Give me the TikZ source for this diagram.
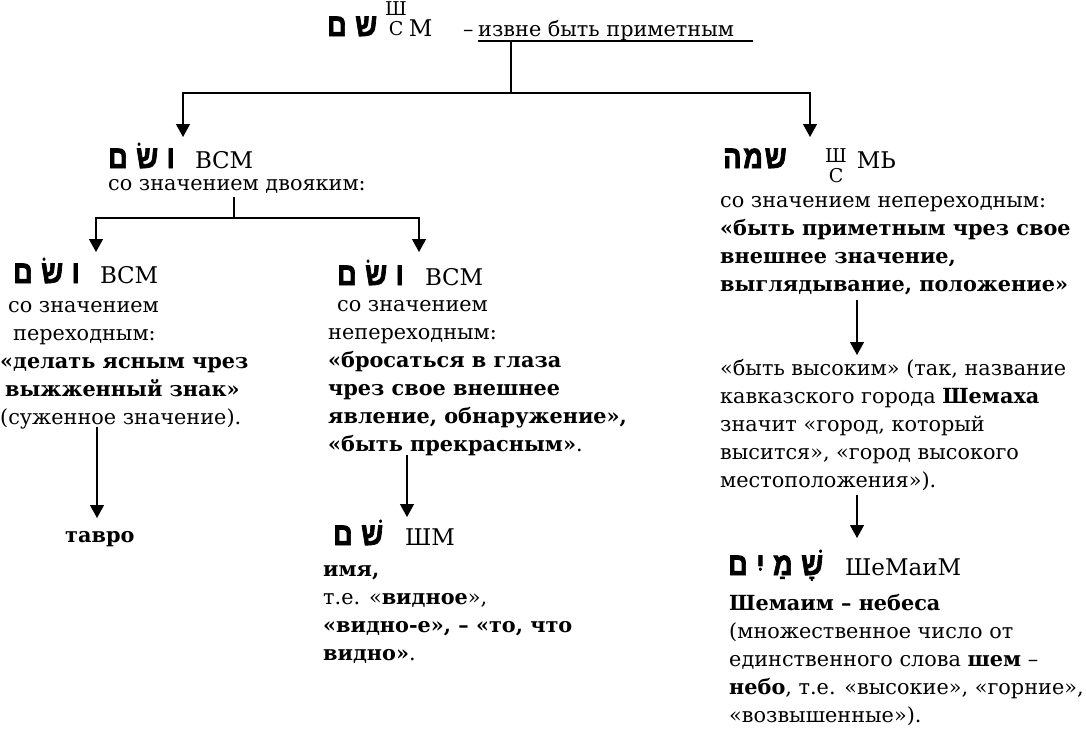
\documentclass[tikz,border=0pt]{standalone}
\usepackage{fontspec}
\setmainfont{DejaVu Serif}
\newfontfamily\hebfont[Script=Hebrew, BoldFeatures={FakeBold=2.5}]{Liberation Sans}
\TeXXeTstate=1
\usetikzlibrary{arrows.meta}

\newcommand{\hsp}{\hspace{10pt}}
\newcommand{\heb}[1]{\scalebox{0.85}[1]{\hebfont\bfseries\fontsize{32}{32}\selectfont\beginR #1\endR}}
\newcommand{\shsin}[1][0pt]{\raisebox{#1}{\fontsize{19}{19}\selectfont\begin{tabular}[c]{@{}c@{}}Ш\\С\end{tabular}}}

\begin{document}
\begin{tikzpicture}[x=1pt, y=-1pt,
    link/.style={line width=1.2pt},
    arr/.style={link, -{Triangle[width=14pt,length=13pt]}},
    hdr/.style={anchor=base west, inner sep=0pt, font=\fontsize{20.8}{24}\selectfont},
    trl/.style={anchor=base west, inner sep=0pt, font=\fontsize{23}{26}\selectfont},
    blk/.style={anchor=north west, inner sep=0pt, align=left,
        font=\fontsize{20.8}{28}\selectfont}
  ]
  \useasboundingbox (0,0) rectangle (1086,729);

  % root
  \node[hdr] (root) at (327,36) {\heb{ש\hsp ם}};
  \node[trl] (roottr) at (385,36) {\shsin[10pt]\hspace{2pt}М};
  \node[hdr] (rootdash) at (463,36) {–};
  \node[hdr] (rootdef) at (478,36) {извне быть приметным};
  \draw[link] ([yshift=-5pt]rootdef.base west) -- ++(275,0);

  % second level
  \node[hdr] (vsm) at (108,168) {\heb{ו\hsp שׂ\hsp ם}};
  \node[trl] (vsmtr) at (195,168) {ВСМ};
  \node[blk] (dvoyak) at (108,170.4) {\strut со значением двояким:};
  \node[hdr] (shmh) at (723,168) {\heb{ש\hspace{2pt}מ\hspace{2pt}ה}};
  \node[trl] (shmhtr) at (825,168) {\shsin[-5pt]\hspace{10pt}МЬ};
  \node[blk] (shmhtext) at (720,187.4) {\strut со значением непереходным:\\
    \textbf{«быть приметным чрез свое}\\
    \textbf{внешнее значение,}\\
    \textbf{выглядывание, положение»}};

  % third level, left
  \node[hdr] (vsmp) at (13,283) {\heb{ו\hsp שׂ\hsp ם}};
  \node[trl] (vsmptr) at (100,283) {ВСМ};
  \node[blk] (perehod) at (0,292.4) {\strut\hspace{8pt}со значением\\
    \hspace{13pt}переходным:\\
    \textbf{«делать ясным чрез}\\
    \hspace{5pt}\textbf{выжженный знак»}\\
    (суженное значение).};
  \node[hdr] (tavro) at (65,542) {\textbf{тавро}};

  % third level, middle
  \node[hdr] (vsmn) at (337,285) {\heb{ו\hsp שׂ\hsp ם}};
  \node[trl] (vsmntr) at (425,285) {ВСМ};
  \node[blk] (neperehod) at (328,291.4) {\strut\hspace{9pt}со значением\\
    непереходным:\\
    \textbf{«бросаться в глаза}\\
    \textbf{чрез свое внешнее}\\
    \textbf{явление, обнаружение»,}\\
    \textbf{«быть прекрасным»}.};
  \node[hdr] (shm) at (333,545) {\heb{שׁ\hsp ם}};
  \node[trl] (shmtr) at (405,545) {ШМ};
  \node[blk] (imya) at (323,556.4) {\strut\textbf{имя,}\\
    т.е. «\textbf{видное}»,\\
    \textbf{«видно-е», – «то, что}\\
    \textbf{видно»}.};

  % right column
  \node[blk] (vysok) at (720,355.4) {\strut«быть высоким» (так, название\\
    кавказского города \textbf{Шемаха}\\
    значит «город, который\\
    высится», «город высокого\\
    местоположения»).};
  \node[hdr] (shamayim) at (728,575) {\heb{שָׁ\hsp מַ\hsp יִ\hsp ם}};
  \node[trl] (shamayimtr) at (845,575) {ШеМаиМ};
  \node[blk] (shamtext) at (729,590.4) {\strut\textbf{Шемаим – небеса}\\
    (множественное число от\\
    единственного слова \textbf{шем} –\\
    \textbf{небо}, т.е. «высокие», «горние»,\\
    «возвышенные»).};

  % connectors
  \coordinate (trunk) at (511,41);
  \coordinate (split) at (511,93);
  \coordinate (tipvsm) at (183,137);
  \coordinate (tipshmh) at (810,137);
  \draw[link] (trunk) -- (split);
  \draw[arr] (split) -| (tipvsm);
  \draw[arr] (split) -| (tipshmh);

  \coordinate (dvjoin) at (234,197);
  \coordinate (dvsplit) at (234,218);
  \coordinate (tipvsmp) at (96,252);
  \coordinate (tipvsmn) at (419,252);
  \draw[link] (dvjoin) -- (dvsplit);
  \draw[arr] (dvsplit) -| (tipvsmp);
  \draw[arr] (dvsplit) -| (tipvsmn);

  \coordinate (perehodout) at (97,427);
  \coordinate (tiptavro) at (97,518);
  \draw[arr] (perehodout) -- (tiptavro);

  \coordinate (neperehodout) at (407,455);
  \coordinate (tipshm) at (407,517);
  \draw[arr] (neperehodout) -- (tipshm);

  \coordinate (shmhout) at (857,300);
  \coordinate (tipvysok) at (857,355);
  \draw[arr] (shmhout) -- (tipvysok);

  \coordinate (vysokout) at (857,495);
  \coordinate (tipshamayim) at (857,538);
  \draw[arr] (vysokout) -- (tipshamayim);
\end{tikzpicture}
\end{document}
